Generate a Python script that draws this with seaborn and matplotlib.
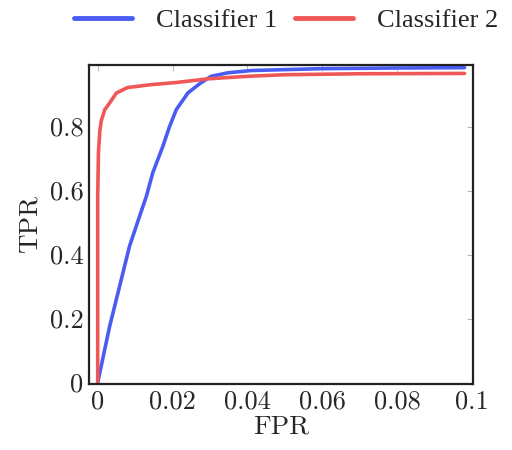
import pandas as pd
import matplotlib.pyplot as plt
import seaborn as sns

# ROC points
fpr_1 = [0.0, 0.0032, 0.0063, 0.0085, 0.0112, 0.0130, 0.0147, 0.0174, 0.0192, 0.0210,
         0.0241, 0.0276, 0.0303, 0.0348, 0.0410, 0.0500, 0.0600, 0.0800, 0.0980]
tpr_1 = [0.0, 0.176, 0.322, 0.426, 0.520, 0.582, 0.655, 0.738, 0.800, 0.853,
         0.905, 0.937, 0.957, 0.968, 0.975, 0.978, 0.981, 0.983, 0.984]

fpr_2 = [0.0, 0.0000, 0.0002, 0.0006, 0.0010, 0.0019, 0.0032, 0.0050, 0.0080,
         0.0143, 0.0213, 0.0293, 0.0400, 0.0500, 0.0700, 0.0980]
tpr_2 = [0.0, 0.580, 0.720, 0.790, 0.820, 0.853, 0.874, 0.905, 0.922,
         0.931, 0.938, 0.949, 0.957, 0.962, 0.965, 0.966]

labels = ['Classifier 1', 'Classifier 2']
colors = ['#4a5cf2', '#f05858']

df = pd.concat([
    pd.DataFrame({'FPR': fpr_1, 'TPR': tpr_1, 'clf': labels[0]}),
    pd.DataFrame({'FPR': fpr_2, 'TPR': tpr_2, 'clf': labels[1]}),
])

sns.set_style('white')
plt.rcParams['font.family'] = ['cmr10', 'DejaVu Serif']
plt.rcParams['axes.formatter.use_mathtext'] = True

fig = plt.figure(figsize=(5.12, 4.5), dpi=100)
ax = fig.add_axes([0.174, 0.147, 0.750, 0.709])
sns.lineplot(data=df, x='FPR', y='TPR', hue='clf', palette=colors,
             linewidth=2.6, sort=False, estimator=None, ax=ax, legend=False)

ax.set_xlim(-0.0023, 0.1003)
ax.set_ylim(-0.004, 0.993)
xt = [0, 0.02, 0.04, 0.06, 0.08, 0.1]
yt = [0, 0.2, 0.4, 0.6, 0.8]
ax.set_xticks(xt)
ax.set_xticklabels(['0', '0.02', '0.04', '0.06', '0.08', '0.1'])
ax.set_yticks(yt)
ax.set_yticklabels(['0', '0.2', '0.4', '0.6', '0.8'])
ax.tick_params(direction='in', length=4, width=0.6, color='#aaaaaa',
               top=True, right=True, labelsize=19, pad=4)
ax.set_xlabel('FPR', fontsize=19.5, labelpad=1)
ax.set_ylabel('TPR', fontsize=19.5, labelpad=6)
for s in ax.spines.values():
    s.set_color('#222222')
    s.set_linewidth(1.6)

handles = [plt.Line2D([], [], color=c, lw=3.5) for c in colors]
fig.legend(handles, labels, loc='center', bbox_to_anchor=(0.559, 0.955), ncol=2,
           frameon=False, prop={'family': 'Liberation Serif', 'size': 19},
           handlelength=2.2, columnspacing=0.7, handletextpad=0.9,
           borderpad=0.0, borderaxespad=0.0)

plt.savefig('out.png', dpi=100)
